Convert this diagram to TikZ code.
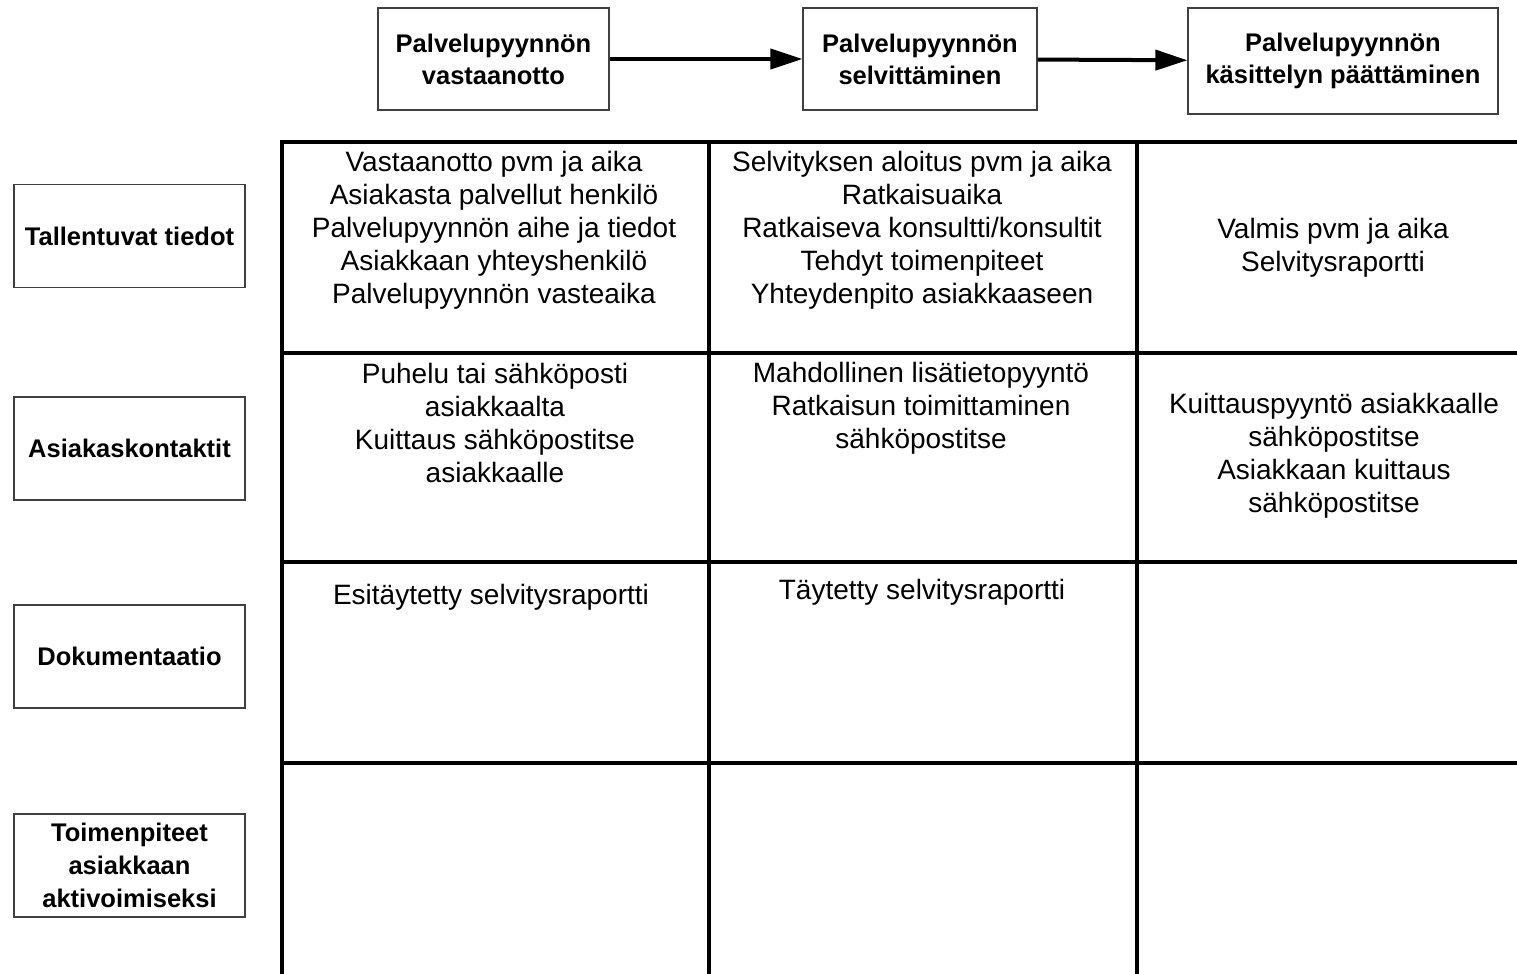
\documentclass[tikz,border=0pt]{standalone}
\usepackage{fontspec}
\setmainfont{Liberation Sans}
\usetikzlibrary{arrows.meta}

\begin{document}
\begin{tikzpicture}[
        x=0.5pt, y=-0.5pt,
        phase/.style={draw=black!75, line width=0.6pt, align=center, inner sep=0pt,
            font=\bfseries\fontsize{12.75}{16}\selectfont},
        topic/.style={phase, minimum width=115.5pt, minimum height=51.5pt,
            font=\bfseries\fontsize{12.75}{16.5}\selectfont},
        cell/.style={align=center, inner sep=0pt, font=\fontsize{14}{16.5}\selectfont},
        grid line/.style={line width=2pt},
        flow/.style={line width=2pt, -{Triangle[length=16pt, width=10pt]}}
    ]
        \useasboundingbox (0,0) rectangle (1517,974);

        % Vaiheet
        \node [phase, minimum width=115.5pt, minimum height=51pt] (receive) at (493.5,59) {Palvelupyynnön\\vastaanotto};
        \node [phase, minimum width=117pt, minimum height=51pt] (resolve) at (920,59) {Palvelupyynnön\\selvittäminen};
        \node [phase, minimum width=155pt, minimum height=53pt] (close) at (1343,61) {Palvelupyynnön\\käsittelyn päättäminen};

        \draw[flow] (receive) -- (resolve);
        \draw[flow] (resolve) -- (close);

        % Rivien otsikot
        \node [topic] (stored) at (129.5,236) {Tallentuvat tiedot};
        \node [topic] (contacts) at (129.5,448.5) {Asiakaskontaktit};
        \node [topic] (docs) at (129.5,656.5) {Dokumentaatio};
        \node [topic] (actions) at (129.5,865.5) {Toimenpiteet\\asiakkaan\\aktivoimiseksi};

        % Taulukko
        \draw[grid line] (1517,142) -| (282,974);
        \foreach \x in {709,1137}
            \draw[grid line] (\x,142) -- (\x,974);
        \foreach \y in {353,562,763}
            \draw[grid line] (282,\y) -- (1517,\y);

        % Solujen tekstit
        \node [cell] (stored1) at (494,230.5) {Vastaanotto pvm ja aika\\Asiakasta palvellut henkilö\\Palvelupyynnön aihe ja tiedot\\Asiakkaan yhteyshenkilö\\Palvelupyynnön vasteaika};
        \node [cell] (stored2) at (922,230.5) {Selvityksen aloitus pvm ja aika\\Ratkaisuaika\\Ratkaiseva konsultti/konsultit\\Tehdyt toimenpiteet\\Yhteydenpito asiakkaaseen};
        \node [cell] (stored3) at (1333,248) {Valmis pvm ja aika\\Selvitysraportti};
        \node [cell] (contacts1) at (495,423) {Puhelu tai sähköposti\\asiakkaalta\\Kuittaus sähköpostitse\\asiakkaalle};
        \node [cell] (contacts2) at (921,408) {Mahdollinen lisätietopyyntö\\Ratkaisun toimittaminen\\sähköpostitse};
        \node [cell] (contacts3) at (1334,456) {Kuittauspyyntö asiakkaalle\\sähköpostitse\\Asiakkaan kuittaus\\sähköpostitse};
        \node [cell] (docs1) at (491,597) {Esitäytetty selvitysraportti};
        \node [cell] (docs2) at (922,592) {Täytetty selvitysraportti};
    \end{tikzpicture}
\end{document}
